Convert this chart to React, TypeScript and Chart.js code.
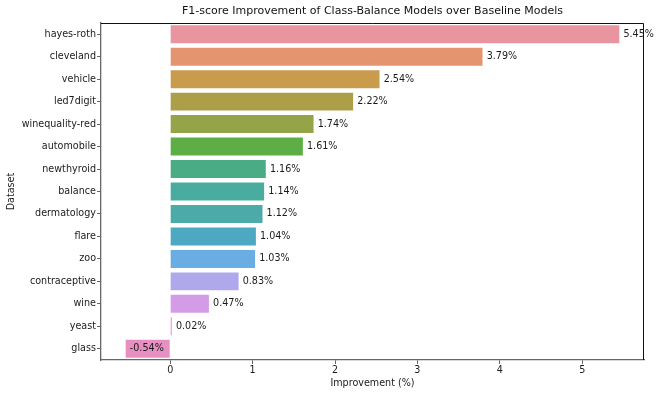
import React, { useEffect, useRef } from "react";
import { Chart, registerables } from "chart.js";

Chart.register(...registerables);

const datasets = [
  "hayes-roth", "cleveland", "vehicle", "led7digit", "winequality-red", "automobile",
  "newthyroid", "balance", "dermatology", "flare", "zoo", "contraceptive", "wine", "yeast", "glass",
];
const improvement = [5.45, 3.79, 2.54, 2.22, 1.74, 1.61, 1.16, 1.14, 1.12, 1.04, 1.03, 0.83, 0.47, 0.02, -0.54];
const barColors = [
  "#E9959F", "#E4956F", "#C99B4D", "#AD9F48", "#96A449", "#5CAE45", "#4AAC84", "#4AAC9E",
  "#4CABA9", "#4DA9C2", "#6AADE2", "#AFA8EB", "#D49CE6", "#E59ADB", "#E68FC0",
];
const xTicks = [0, 1, 2, 3, 4, 5];
const xMin = -0.8395;
const xMax = 5.7495;
const labelOffset = 0.05;

const FONT = "'DejaVu Sans', sans-serif";
const FS = 9.6;

const valueLabels = {
  id: "valueLabels",
  afterDatasetsDraw(chart: any) {
    const ctx = chart.ctx;
    const xs = chart.scales.x;
    const meta = chart.getDatasetMeta(0);
    ctx.save();
    ctx.font = `${FS}px ${FONT}`;
    ctx.fillStyle = "#1a1a1a";
    ctx.textAlign = "left";
    ctx.textBaseline = "middle";
    improvement.forEach((v, i) => {
      const el = meta.data[i];
      ctx.fillText(`${v.toFixed(2)}%`, xs.getPixelForValue(v + labelOffset), el.y);
    });
    ctx.restore();
  },
};

const frame = {
  id: "frame",
  afterDraw(chart: any) {
    const { ctx, chartArea: a } = chart;
    ctx.save();
    ctx.strokeStyle = "#111";
    ctx.lineWidth = 1;
    ctx.beginPath();
    ctx.moveTo(a.left, a.top + 0.5);
    ctx.lineTo(a.right - 0.5, a.top + 0.5);
    ctx.lineTo(a.right - 0.5, a.bottom);
    ctx.stroke();
    ctx.restore();
  },
};

export default function App() {
  const ref = useRef<HTMLCanvasElement>(null);
  useEffect(() => {
    document.body.style.margin = "0";
    const chart = new Chart(ref.current!, {
      type: "bar",
      data: {
        labels: datasets,
        datasets: [
          {
            data: improvement,
            backgroundColor: barColors,
            borderWidth: 0,
            categoryPercentage: 0.8,
            barPercentage: 1,
          },
        ],
      },
      options: {
        indexAxis: "y",
        responsive: false,
        animation: false,
        layout: { padding: { left: 0, right: 20, top: 0, bottom: 0 } },
        plugins: {
          legend: { display: false },
          tooltip: { enabled: false },
          title: {
            display: true,
            text: "F1-score Improvement of Class-Balance Models over Baseline Models",
            fullSize: false,
            color: "#111",
            font: { family: FONT, size: 11, weight: "normal" },
            padding: { top: 5, bottom: 4.8 },
          },
        },
        scales: {
          x: {
            type: "linear",
            min: xMin,
            max: xMax,
            afterBuildTicks(scale: any) {
              scale.ticks = xTicks.map((v) => ({ value: v }));
            },
            afterFit(scale: any) {
              scale.height = 39;
            },
            border: { display: true, color: "#666", width: 1.3 },
            grid: { drawOnChartArea: false, drawTicks: true, tickLength: 4, color: "#666" },
            ticks: {
              color: "#1a1a1a",
              font: { family: FONT, size: FS },
              padding: 1,
              callback: (v: any) => `${v}`,
            },
            title: {
              display: true,
              text: "Improvement (%)",
              color: "#1a1a1a",
              font: { family: FONT, size: FS },
              padding: { top: 0, bottom: 10 },
            },
          },
          y: {
            type: "category",
            offset: true,
            afterFit(scale: any) {
              scale.width = 101;
            },
            border: { display: true, color: "#666", width: 1.3 },
            grid: { drawOnChartArea: false, drawTicks: true, tickLength: 4, color: "#666", offset: false },
            ticks: {
              color: "#1a1a1a",
              font: { family: FONT, size: FS },
              padding: 1,
            },
            title: {
              display: true,
              text: "Dataset",
              color: "#1a1a1a",
              font: { family: FONT, size: FS },
              padding: { top: 6, bottom: 0 },
            },
          },
        },
      },
      plugins: [valueLabels, frame],
    });
    return () => chart.destroy();
  }, []);
  return <canvas ref={ref} width={664} height={399} style={{ display: "block" }} />;
}
